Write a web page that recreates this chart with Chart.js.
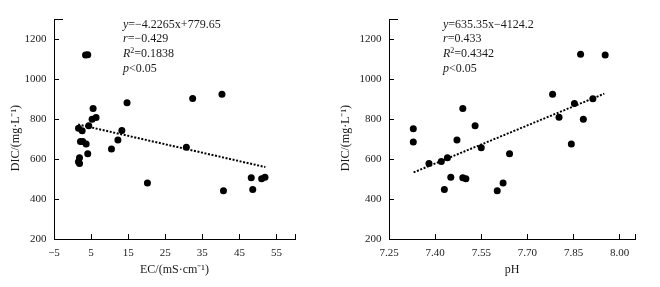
<!DOCTYPE html>
<html><head><meta charset="utf-8">
<script src="https://cdn.jsdelivr.net/npm/chart.js@4.4.1/dist/chart.umd.min.js"></script>
<style>
html,body{margin:0;padding:0;background:#fff;}
#wrap{position:relative;width:660px;height:287px;overflow:hidden;}
canvas{position:absolute;top:0;}
.ann{position:absolute;font-family:"Liberation Serif",serif;font-size:12px;line-height:14.7px;color:#1a1a1a;white-space:nowrap;}
.ann i{font-style:italic;}
.ann sup{font-size:8px;line-height:0;vertical-align:4px;}
</style></head>
<body>
<div id="wrap">
<canvas id="c1" width="330" height="287" style="left:0"></canvas>
<canvas id="c2" width="330" height="287" style="left:330px"></canvas>
<div class="ann" style="left:123px;top:16.5px"><i>y</i>=−4.2265x+779.65<br><i>r</i>=−0.429<br><i>R</i><sup>2</sup>=0.1838<br><i>p</i>&lt;0.05</div>
<div class="ann" style="left:443px;top:16.5px"><i>y</i>=635.35x−4124.2<br><i>r</i>=0.433<br><i>R</i><sup>2</sup>=0.4342<br><i>p</i>&lt;0.05</div>
</div>
<script>
// ---- data ----
const ecValues  = [3.5, 4.1, 5.55, 5.28, 6.35, 4.37, 1.61, 2.6, 2.14, 2.76, 3.67, 4.1, 1.88, 1.6, 1.88, 10.5, 12.24, 13.3, 14.7, 20.2, 32.4, 30.7, 40.3, 48.2, 51.0, 51.9, 40.7, 48.6];
const ecDIC     = [1121, 1122, 853, 799, 808, 766, 754, 741, 688, 688, 675, 626, 606, 586, 578, 650, 695, 743, 881, 480, 903, 659, 924, 507, 502, 509, 441, 447];
const ecTrendX  = [1.5, 52];
const ecTrendY  = [773, 560];

const phValues  = [7.329, 7.329, 7.38, 7.42, 7.44, 7.471, 7.49, 7.53, 7.55, 7.642, 7.451, 7.49, 7.50, 7.43, 7.602, 7.621, 7.782, 7.803, 7.843, 7.853, 7.873, 7.882, 7.913, 7.953];
const phDIC     = [751, 685, 578, 588, 606, 695, 853, 766, 657, 627, 509, 507, 502, 447, 441, 480, 924, 809, 675, 878, 1124, 799, 901, 1121];
const phTrendX  = [7.33, 7.95];
const phTrendY  = [533, 927];

const yTickValues = [200, 400, 600, 800, 1000, 1200, 1300];
const yTickLabels = ['200', '400', '600', '800', '1000', '1200', ''];
const ecTickValues = [-5, 5, 15, 25, 35, 45, 55, 60];
const ecTickLabels = ['−5', '5', '15', '25', '35', '45', '55', ''];
const phTickValues = [7.25, 7.40, 7.55, 7.70, 7.85, 8.00, 8.05];
const phTickLabels = ['7.25', '7.40', '7.55', '7.70', '7.85', '8.00', ''];

const FONT = '"Liberation Serif", "Times New Roman", serif';
const TXT = '#1a1a1a';

const topMark = {
  id: 'topMark',
  afterDraw(chart) {
    const y = chart.scales.y, ctx = chart.ctx;
    const py = Math.round(y.getPixelForValue(y.max)) + 0.5;
    ctx.save();
    ctx.strokeStyle = '#000'; ctx.lineWidth = 1;
    ctx.beginPath(); ctx.moveTo(chart.chartArea.left, py); ctx.lineTo(chart.chartArea.left + 9, py); ctx.stroke();
    ctx.restore();
  }
};

function makeChart(id, xs, ys, tx, ty, xVals, xLabels, xTitle, yWidth, rightPad) {
  const pts = xs.map((x, i) => ({x: x, y: ys[i]}));
  const tr = tx.map((x, i) => ({x: x, y: ty[i]}));
  return new Chart(document.getElementById(id), {
    type: 'scatter',
    data: { datasets: [
      { data: pts, pointRadius: 3.5, pointBackgroundColor: '#000', pointBorderWidth: 0, showLine: false },
      { data: tr, showLine: true, pointRadius: 0, borderColor: '#000', borderWidth: 2, borderDash: [2, 1.6], fill: false }
    ]},
    options: {
      responsive: false, animation: false, devicePixelRatio: 1,
      layout: { padding: { top: 15, right: rightPad, bottom: 0, left: 0 } },
      plugins: { legend: { display: false }, tooltip: { enabled: false } },
      scales: {
        x: {
          type: 'linear', min: xVals[0], max: xVals[xVals.length - 1],
          afterBuildTicks: s => { s.ticks = xVals.map(v => ({ value: v })); },
          afterFit: s => { s.height = 48; },
          ticks: { callback: (v, i) => xLabels[i], autoSkip: false, maxRotation: 0, padding: 13, color: TXT, font: { family: FONT, size: 11 } },
          grid: { drawOnChartArea: false, tickLength: -5, color: '#000', lineWidth: 1 },
          border: { display: true, color: '#000', width: 1 },
          title: { display: true, text: xTitle, color: TXT, font: { family: FONT, size: 12 }, padding: { top: 0, bottom: 10 } }
        },
        y: {
          type: 'linear', min: 200, max: 1300,
          afterBuildTicks: s => { s.ticks = yTickValues.map(v => ({ value: v })); },
          afterFit: s => { s.width = yWidth; },
          ticks: { callback: (v, i) => yTickLabels[i], autoSkip: false, padding: 12.5, color: TXT, font: { family: FONT, size: 11 } },
          grid: { drawOnChartArea: false, tickLength: -5, color: '#000', lineWidth: 1 },
          border: { display: true, color: '#000', width: 1 },
          title: { display: true, text: 'DIC/(mg·L⁻¹)\u00a0\u00a0\u00a0\u00a0\u00a0\u00a0', color: TXT, font: { family: FONT, size: 12 }, padding: { top: 9, bottom: 0 } }
        }
      }
    },
    plugins: [topMark]
  });
}

makeChart('c1', ecValues, ecDIC, ecTrendX, ecTrendY, ecTickValues, ecTickLabels, 'EC/(mS·cm⁻¹)', 54, 35);
makeChart('c2', phValues, phDIC, phTrendX, phTrendY, phTickValues, phTickLabels, 'pH', 59, 25);
</script>
</body></html>
